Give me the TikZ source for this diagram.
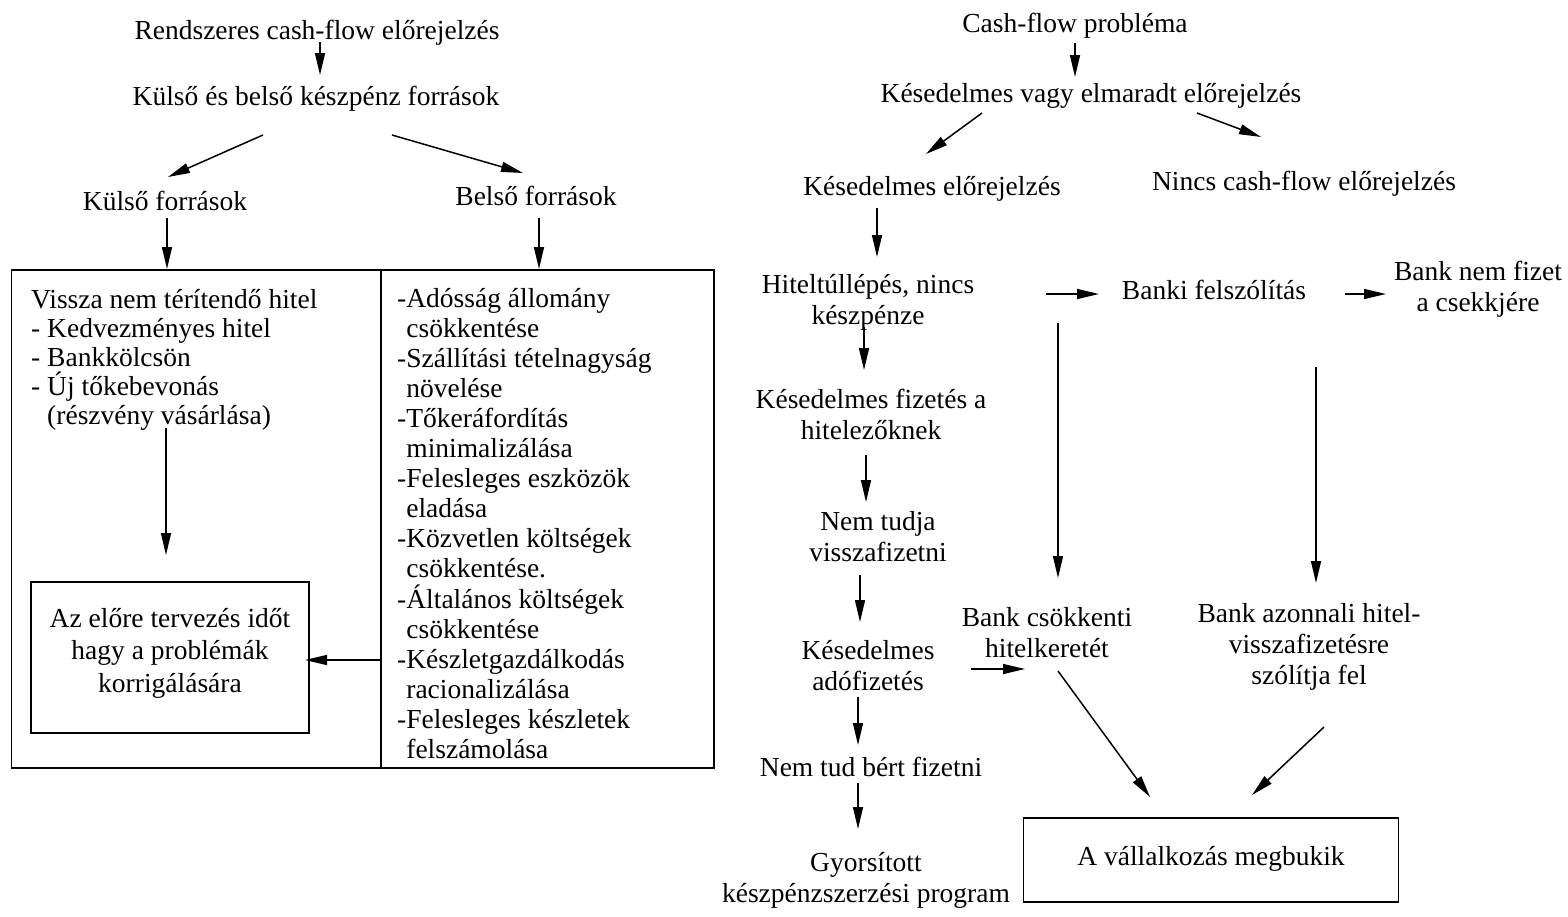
\documentclass[tikz,border=0pt]{standalone}
\usepackage{fontspec}
\setmainfont{Liberation Serif}
\usetikzlibrary{arrows.meta}
\begin{document}
\begin{tikzpicture}[x=1pt,y=-1pt,
  font=\fontsize{27.5}{31}\selectfont,
  txt/.style={inner sep=0pt, align=center, anchor=base},
  lst/.style={inner sep=0pt, align=left, anchor=base west},
  cell/.style={draw, line width=1.8pt, inner sep=0pt, align=center},
  arr/.style={-{Triangle[length=22pt,width=10pt]}, line width=1.5pt},
]
\useasboundingbox (0,0) rectangle (1568,916);

% ---------- left: planned cash flow ----------
\node[txt] (plan0) at (317,39) {Rendszeres cash-flow előrejelzés};
\node[txt] (src)   at (316,105) {Külső és belső készpénz források};
\node[txt] (ext)   at (165,210) {Külső források};
\node[txt] (int)   at (536,205) {Belső források};

\node[cell, minimum width=369.5pt, minimum height=498pt] (extbox) at (196.25,519) {};
\node[cell, minimum width=333pt, minimum height=498pt] (intbox) at (547.5,519) {};

% lists are anchored at the baseline of their last line
\node[lst, font=\fontsize{27.5}{29}\selectfont] (extlist) at (31,424)
  {Vissza nem térítendő hitel\\- Kedvezményes hitel\\- Bankkölcsön\\- Új tőkebevonás\\\hphantom{- }(részvény vásárlása)};

\node[lst, font=\fontsize{27.5}{30.1}\selectfont] (intlist) at (397,758.5)
  {-Adósság állomány\\\hphantom{-}csökkentése\\-Szállítási tételnagyság\\\hphantom{-}növelése\\-Tőkeráfordítás\\\hphantom{-}minimalizálása\\-Felesleges eszközök\\\hphantom{-}eladása\\-Közvetlen költségek\\\hphantom{-}csökkentése.\\-Általános költségek\\\hphantom{-}csökkentése\\-Készletgazdálkodás\\\hphantom{-}racionalizálása\\-Felesleges készletek\\\hphantom{-}felszámolása};

\node[cell, minimum width=278pt, minimum height=151pt, font=\fontsize{27.5}{32.5}\selectfont] (plan) at (170,657.5)
  {Az előre tervezés időt\\hagy a problémák\\korrigálására\rule[-15pt]{0pt}{0pt}};

\draw[arr] ([shift={(3,3)}]plan0.base) -- ([shift={(4,-30)}]src.base);
\draw[arr] ([shift={(-53,30)}]src.base) -- ([shift={(3,-33)}]ext.base);
\draw[arr] ([shift={(76,30)}]src.base) -- ([shift={(-13,-32)}]int.base);
\draw[arr] ([shift={(2,8)}]ext.base) -- ([shift={(-29.25,-250)}]extbox.center);
\draw[arr] ([shift={(3,13)}]int.base) -- ([shift={(-8.5,-250)}]intbox.center);
\draw[arr] ([shift={(135,4)}]extlist.base west) -- ([shift={(-4,-102.5)}]plan.center);
\draw[arr] ([shift={(-16,-98.5)}]intlist.base west) -- ([shift={(135,2.5)}]plan.center);

% ---------- right: cash flow problem ----------
% multi-line texts are anchored at the baseline of their last line
\node[txt] (prob)   at (1075,32)  {Cash-flow probléma};
\node[txt] (late)   at (1091,102) {Késedelmes vagy elmaradt előrejelzés};
\node[txt] (delay)  at (932,195)  {Késedelmes előrejelzés};
\node[txt] (none)   at (1304,190) {Nincs cash-flow előrejelzés};
\node[txt] (over)   at (868,324)  {Hiteltúllépés, nincs\\készpénze};
\node[txt] (notice) at (1214,299) {Banki felszólítás};
\node[txt] (cheque) at (1478,311) {Bank nem fizet\\a csekkjére};
\node[txt] (credit) at (871,439)  {Késedelmes fizetés a\\hitelezőknek};
\node[txt] (repay)  at (878,561)  {Nem tudja\\visszafizetni};
\node[txt] (tax)    at (868,690)  {Késedelmes\\adófizetés};
\node[txt] (limit)  at (1047,657) {Bank csökkenti\\hitelkeretét};
\node[txt] (recall) at (1309,684) {Bank azonnali hitel-\\visszafizetésre\\szólítja fel};
\node[txt] (wage)   at (871,776)  {Nem tud bért fizetni};
\node[txt] (rush)   at (866,902)  {Gyorsított\\készpénzszerzési program};
\node[cell, minimum width=375pt, minimum height=84pt] (fail) at (1211,860)
  {A vállalkozás megbukik\rule[-8pt]{0pt}{0pt}};

\draw[arr] ([shift={(0,11)}]prob.base) -- ([shift={(-16,-25)}]late.base);
\draw[arr] ([shift={(-109,11)}]late.base) -- ([shift={(-6,-41)}]delay.base);
\draw[arr] ([shift={(106,11)}]late.base) -- ([shift={(-43,-53)}]none.base);
\draw[arr] ([shift={(-55,13)}]delay.base) -- ([shift={(9,-67)}]over.base);
\draw[arr] ([shift={(178,-30)}]over.base) -- ([shift={(-115,-5)}]notice.base);
\draw[arr] ([shift={(131,-5)}]notice.base) -- ([shift={(-92,-17)}]cheque.base);
\draw[arr] ([shift={(-4,3)}]over.base) -- ([shift={(-7,-69)}]credit.base);
\draw[arr] ([shift={(-5,16)}]credit.base) -- ([shift={(-12,-59)}]repay.base);
\draw[arr] ([shift={(-18,14)}]repay.base) -- ([shift={(-8,-68)}]tax.base);
\draw[arr] ([shift={(-10,7)}]tax.base) -- ([shift={(-13,-31)}]wage.base);
\draw[arr] ([shift={(-13,7)}]wage.base) -- ([shift={(-8,-73)}]rush.base);
\draw[arr] ([shift={(103,-21)}]tax.base) -- ([shift={(-22,12)}]limit.base);
\draw[arr] ([shift={(-156,24)}]notice.base) -- ([shift={(11,-79)}]limit.base);
\draw[arr] ([shift={(102,68)}]notice.base) -- ([shift={(7,-101)}]recall.base);
\draw[arr] ([shift={(11,14)}]limit.base) -- ([shift={(-61,-63)}]fail.center);
\draw[arr] ([shift={(15,43)}]recall.base) -- ([shift={(41,-65)}]fail.center);
\end{tikzpicture}
\end{document}
